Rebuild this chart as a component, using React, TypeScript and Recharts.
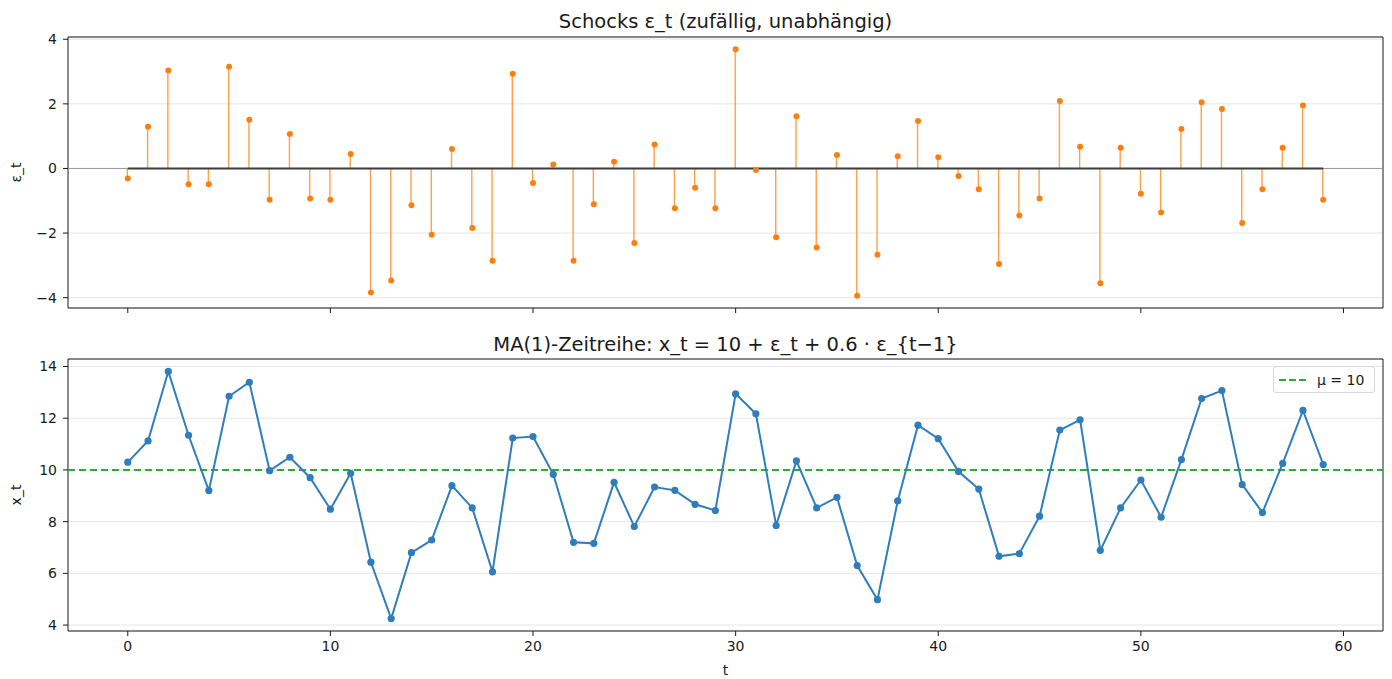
import React from 'react';
import {
  ComposedChart,
  Bar,
  Line,
  XAxis,
  YAxis,
  CartesianGrid,
  ReferenceLine,
  ReferenceArea,
  Label,
} from 'recharts';

const t = [
  0, 1, 2, 3, 4, 5, 6, 7, 8, 9, 10, 11, 12, 13, 14, 15, 16, 17, 18, 19,
  20, 21, 22, 23, 24, 25, 26, 27, 28, 29, 30, 31, 32, 33, 34, 35, 36, 37, 38, 39,
  40, 41, 42, 43, 44, 45, 46, 47, 48, 49, 50, 51, 52, 53, 54, 55, 56, 57, 58, 59,
];

// Schocks
const eps = [
  -0.31, 1.29, 3.03, -0.49, -0.49, 3.15, 1.51, -0.97, 1.07, -0.93,
  -0.97, 0.45, -3.84, -3.47, -1.14, -2.05, 0.6, -1.84, -2.86, 2.93,
  -0.45, 0.12, -2.86, -1.11, 0.21, -2.31, 0.74, -1.23, -0.6, -1.23,
  3.69, -0.05, -2.13, 1.62, -2.45, 0.42, -3.94, -2.67, 0.38, 1.47,
  0.35, -0.23, -0.64, -2.96, -1.46, -0.93, 2.09, 0.67, -3.55, 0.64,
  -0.78, -1.36, 1.22, 2.05, 1.84, -1.69, -0.64, 0.64, 1.95, -0.97,
];

// MA(1)-Zeitreihe
const xs = [
  10.3, 11.12, 13.81, 11.34, 9.2, 12.85, 13.39, 9.97, 10.49, 9.7,
  8.48, 9.87, 6.43, 4.25, 6.8, 7.29, 9.39, 8.53, 6.06, 11.23,
  11.29, 9.83, 7.2, 7.16, 9.52, 7.81, 9.34, 9.21, 8.67, 8.43,
  12.94, 12.17, 7.85, 10.35, 8.53, 8.94, 6.3, 4.98, 8.8, 11.73,
  11.21, 9.94, 9.26, 6.66, 6.76, 8.21, 11.54, 11.94, 6.89, 8.53,
  9.61, 8.17, 10.4, 12.76, 13.07, 9.43, 8.35, 10.25, 12.3, 10.21,
];

const xTicks = [0, 10, 20, 30, 40, 50, 60];
const epsTicks = [-4, -2, 0, 2, 4];
const xsTicks = [4, 6, 8, 10, 12, 14];
const mu = 10;

const rows = t.map((ti, i) => ({ t: ti, eps: eps[i], x: xs[i] }));

const FONT = 'DejaVu Sans, sans-serif';
const INK = '#1a1a1a';
const ORANGE = '#ff7f0e';
const BLUE = '#2f7dbd';
const GREEN = '#33a83a';
const tickStyle = { fill: INK, fontSize: 14, fontFamily: FONT };
const titleStyle = { fill: INK, fontSize: 19.5, fontFamily: FONT };
const fmt = (v: number) => (v < 0 ? `\u2212${Math.abs(v)}` : `${v}`);
const xDomain: [number, number] = [-2.95, 61.95];
const epsDomain: [number, number] = [-4.32, 4.07];
const xsDomain: [number, number] = [3.77, 14.29];

export default function App() {
  return (
    <div style={{ position: 'absolute', left: 0, top: 0, width: 1392, height: 679, background: '#fff', fontFamily: FONT }}>
      <div style={{ position: 'absolute', left: 0, top: 0 }}>
        <ComposedChart width={1392} height={330} data={rows} margin={{ top: 37, right: 9, left: 8, bottom: 0 }}>
          <CartesianGrid vertical={false} stroke="#e6e6e6" />
          <XAxis dataKey="t" type="number" domain={xDomain} ticks={xTicks} allowDataOverflow
            height={22} tickFormatter={() => ''} tickSize={5} tickLine={{ stroke: INK }} axisLine={false} />
          <YAxis domain={epsDomain} ticks={epsTicks} allowDataOverflow width={60} tickSize={5} tickMargin={6}
            tickFormatter={fmt} tick={tickStyle} tickLine={{ stroke: INK }} axisLine={false}>
            <Label value="ε_t" angle={-90} position="insideLeft" offset={8}
              style={{ fill: INK, fontSize: 14, fontFamily: FONT, textAnchor: 'middle' }} />
          </YAxis>
          <ReferenceLine y={0} stroke="#9a9a9a" strokeWidth={1} />
          <Bar dataKey="eps" barSize={1.4} fill={ORANGE} fillOpacity={0.75} isAnimationActive={false} />
          <ReferenceLine segment={[{ x: 0, y: 0 }, { x: 59, y: 0 }]} stroke="#3c3c3c" strokeWidth={2} />
          <Line dataKey="eps" type="linear" stroke="none" dot={{ r: 3, fill: ORANGE, stroke: 'none' }}
            activeDot={false} isAnimationActive={false} />
          <ReferenceArea x1={xDomain[0]} x2={xDomain[1]} y1={epsDomain[0]} y2={epsDomain[1]}
            fill="none" fillOpacity={0} stroke={INK} strokeWidth={1} ifOverflow="visible">
            <Label value="Schocks ε_t (zufällig, unabhängig)" position="top" offset={9.5} style={titleStyle} />
          </ReferenceArea>
        </ComposedChart>
      </div>
      <div style={{ position: 'absolute', left: 0, top: 330 }}>
        <ComposedChart width={1392} height={349} data={rows} margin={{ top: 29, right: 9, left: 8, bottom: 0 }}>
          <CartesianGrid vertical={false} stroke="#e6e6e6" />
          <XAxis dataKey="t" type="number" domain={xDomain} ticks={xTicks} allowDataOverflow
            height={48} tick={tickStyle} tickSize={5} tickMargin={5} tickLine={{ stroke: INK }} axisLine={false}>
            <Label value="t" position="insideBottom" offset={4} style={{ fill: INK, fontSize: 14, fontFamily: FONT }} />
          </XAxis>
          <YAxis domain={xsDomain} ticks={xsTicks} allowDataOverflow width={60} tickSize={5} tickMargin={6}
            tickFormatter={fmt} tick={tickStyle} tickLine={{ stroke: INK }} axisLine={false}>
            <Label value="x_t" angle={-90} position="insideLeft" offset={8}
              style={{ fill: INK, fontSize: 14, fontFamily: FONT, textAnchor: 'middle' }} />
          </YAxis>
          <ReferenceLine y={mu} stroke={GREEN} strokeWidth={2} strokeDasharray="7 4" />
          <Line dataKey="x" type="linear" stroke={BLUE} strokeWidth={2}
            dot={{ r: 3.6, fill: BLUE, stroke: 'none' }} activeDot={false} isAnimationActive={false} />
          <ReferenceArea x1={xDomain[0]} x2={xDomain[1]} y1={xsDomain[0]} y2={xsDomain[1]}
            fill="none" fillOpacity={0} stroke={INK} strokeWidth={1} ifOverflow="visible">
            <Label value="MA(1)-Zeitreihe: x_t = 10 + ε_t + 0.6 · ε_{t−1}" position="top" offset={8.5} style={titleStyle} />
          </ReferenceArea>
        </ComposedChart>
      </div>
      <div style={{
        position: 'absolute', left: 1273, top: 366, width: 102, height: 27, boxSizing: 'border-box',
        border: '1px solid #d9d9d9', borderRadius: 3, background: 'rgba(255,255,255,0.85)',
        display: 'flex', alignItems: 'center', fontSize: 14, color: INK, fontFamily: FONT,
      }}>
        <svg width={40} height={10} style={{ marginLeft: 3 }}>
          <line x1={2} y1={5} x2={31} y2={5} stroke={GREEN} strokeWidth={2} strokeDasharray="7 3" />
        </svg>
        <span>μ = {mu}</span>
      </div>
    </div>
  );
}
